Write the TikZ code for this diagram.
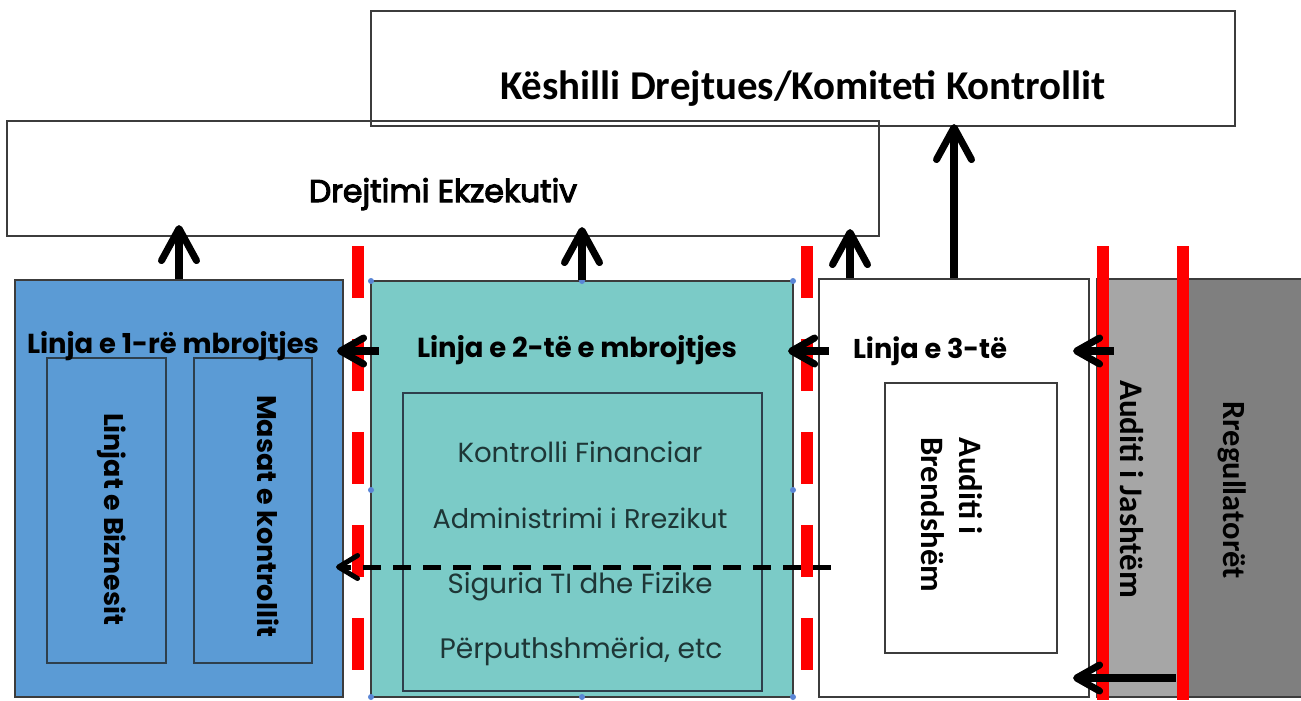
\documentclass[tikz,border=0pt]{standalone}
\usepackage{fontspec}
\setmainfont{Poppins}
\newfontfamily\carl{Carlito}
\newfontfamily\popsemi[FakeBold=3.5]{Poppins}
\usetikzlibrary{arrows.meta,calc,fit}
\definecolor{bluef}{HTML}{5B9BD5}
\definecolor{tealf}{HTML}{7BCBC7}
\definecolor{lgray}{HTML}{A6A6A6}
\definecolor{dgray}{HTML}{7F7F7F}
\definecolor{bord}{HTML}{3C3C3C}
\definecolor{txtdark}{HTML}{1E3636}
\definecolor{handle}{HTML}{5A86D6}
\definecolor{inbord}{HTML}{2E3F4C}
\newcommand{\fw}[2]{\resizebox{#1}{!}{#2}}
\begin{document}
\begin{tikzpicture}[x=0.02cm,y=-0.02cm,
  box/.style={draw=bord,line width=1.2pt,inner sep=0pt},
  inbox/.style={draw=inbord,line width=0.9pt,inner sep=0pt},
  lbl/.style={inner sep=0pt,anchor=base},
  vlbl/.style={inner sep=0pt,anchor=base,rotate=-90},
  upar/.style={line width=4pt,-{Straight Barb[length=0.64cm,width=0.7cm,round]}},
  sar/.style={line width=4pt,-{Straight Barb[length=0.46cm,width=0.52cm,round]}},
  dar/.style={line width=0.1cm,dash pattern=on 0.36cm off 0.24cm,-{Straight Barb[length=0.38cm,width=0.46cm,round]}},
  reddash/.style={draw=red,line width=0.24cm,dash pattern=on 1.04cm off 0.82cm},
  redsolid/.style={draw=red,line width=0.24cm},
  hdl/.style={fill=handle}
]
\useasboundingbox (0,0) rectangle (1301,700);
\fill[white] (0,0) rectangle (1301,700);

% top boxes
\node[box,fit={(371,11)(1235,126)}] (board) {};
\node[box,fit={(7,121)(879,236)}] (exec) {};
\node[lbl,font=\carl\bfseries] (boardtxt) at (803,99) {\fw{12.12cm}{Këshilli Drejtues/Komiteti Kontrollit}};
\node[lbl,font=\popsemi] (exectxt) at (443,202) {\fw{5.36cm}{Drejtimi Ekzekutiv}};

% gray boxes
\node[box,fill=lgray,fit={(1097,279)(1183,697)}] (ext) {};
\node[box,fill=dgray,fit={(1183,279)(1310,697)}] (reg) {};

% first line
\node[box,fill=bluef,fit={(15,280)(343,697)}] (blue) {};
\node[inbox,fit={(47,358)(166,663)}] (biz) {};
\node[inbox,fit={(194,358)(312,663)}] (ctl) {};
\node[lbl,font=\bfseries] (bluetxt) at (173,353) {\fw{5.84cm}{Linja e 1-rë mbrojtjes}};
\node[vlbl,font=\bfseries] (biztxt) at (104,519) {\fw{4.24cm}{Linjat e Biznesit}};
\node[vlbl,font=\bfseries] (ctltxt) at (257,516) {\fw{4.84cm}{Masat e kontrollit}};

% second line
\node[box,fill=tealf,fit={(371,281)(793,697)}] (teal) {};
\node[inbox,fit={(403,393)(762,691)}] (risk) {};
\node[lbl,font=\bfseries] (tealtxt) at (577,357) {\fw{6.40cm}{Linja e 2-të e mbrojtjes}};
\node[lbl,text=txtdark] (r1) at (580,462) {\fw{4.90cm}{Kontrolli Financiar}};
\node[lbl,text=txtdark] (r2) at (580,528) {\fw{5.90cm}{Administrimi i Rrezikut}};
\node[lbl,text=txtdark] (r3) at (580,593) {\fw{5.30cm}{Siguria TI dhe Fizike}};
\node[lbl,text=txtdark] (r4) at (581,658) {\fw{5.66cm}{Përputhshmëria, etc}};

% third line
\node[box,fill=white,fit={(819,279)(1089,697)}] (third) {};
\node[inbox,draw=bord,fit={(885,383)(1057,653)}] (ia) {};
\node[lbl,font=\bfseries] (thirdtxt) at (930,358) {\fw{3.08cm}{Linja e 3-të}};
\node[inner sep=0pt,rotate=-90,anchor=north west,align=left,font=\carl\bfseries\fontsize{18.6}{22}\selectfont] (iatxt) at (983,437) {Auditi i\\Brendshëm};

% external texts
\node[vlbl,font=\carl\bfseries] (exttxt) at (1120,489) {\fw{4.36cm}{Auditi i Jashtëm}};
\node[vlbl,font=\carl\bfseries] (regtxt) at (1223,490) {\fw{3.54cm}{Rregullatorët}};

% handles on teal box
\foreach \p in {(371,281),(582,281),(793,281),(371,490),(793,490),(371,697),(582,697),(793,697)}
  \fill[hdl] \p circle (3);

% red lines
\draw[reddash] (358,246) -- (358,700);
\draw[reddash] (807,246) -- (807,700);
\draw[redsolid] (1103,246) -- (1103,700);
\draw[redsolid] (1183,246) -- (1183,700);

% coordinates
\coordinate (u1) at (179,0);
\coordinate (u2) at (582,0);
\coordinate (u3) at (850,0);
\coordinate (u4) at (954,0);
\coordinate (h1) at (0,351);
\coordinate (h2) at (0,678);
\coordinate (h3) at (0,567);

% up arrows
\draw[upar,shorten >=-0.24cm] (blue.north -| u1) -- (exec.south -| u1);
\draw[upar,shorten >=-0.20cm] (teal.north -| u2) -- (exec.south -| u2);
\draw[upar,shorten >=-0.16cm] (third.north -| u3) -- (exec.south -| u3);
\draw[upar,shorten >=-0.06cm] (third.north -| u4) -- (board.south -| u4);

% left arrows
\draw[sar] ($(teal.west |- h1)+(9,0)$) -- ($(blue.east |- h1)+(-7,0)$);
\draw[sar] ($(third.west |- h1)+(11,0)$) -- ($(teal.east |- h1)+(-6,0)$);
\draw[sar] ($(ext.west |- h1)+(18,0)$) -- ($(third.east |- h1)+(-17,0)$);
\draw[sar] ($(reg.west |- h2)+(-6,0)$) -- ($(third.east |- h2)+(-17,0)$);
\draw[dar] ($(third.west |- h3)+(13,0)$) -- ($(blue.east |- h3)+(-8,0)$);
\end{tikzpicture}
\end{document}
